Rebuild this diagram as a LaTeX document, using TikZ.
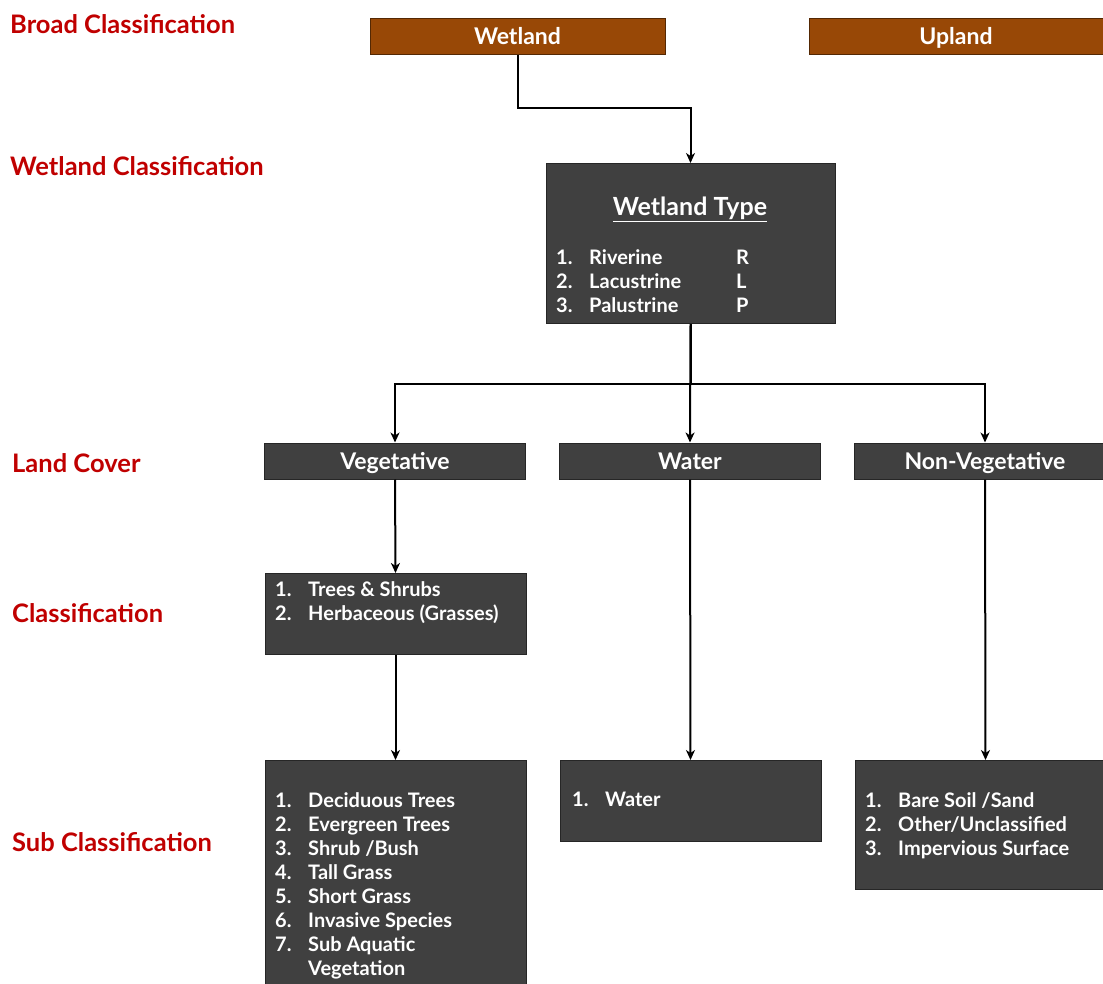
\documentclass[tikz,border=0pt]{standalone}
\usepackage{fontspec}
\setmainfont{Lato}
\usetikzlibrary{arrows.meta,calc}
\definecolor{soilbrown}{HTML}{984806}
\definecolor{boxgrey}{HTML}{404040}
\definecolor{levelred}{HTML}{C00000}
\tikzset{
   broad node/.style={rectangle,fill=soilbrown,draw=soilbrown!55!black,line width=1pt,text=white,
                      font=\bfseries\fontsize{23}{26}\selectfont,minimum width=295pt,minimum height=36pt,inner sep=0pt,
                      text height=18pt,text depth=2pt},
   cover node/.style={rectangle,fill=boxgrey,draw=black!85,line width=1pt,text=white,
                      font=\bfseries\fontsize{23}{26}\selectfont,minimum width=261pt,minimum height=36pt,inner sep=0pt,
                      text height=18pt,text depth=2pt},
   class box/.style={rectangle,fill=boxgrey,draw=black!85,line width=1pt,inner sep=0pt,anchor=north west},
   list text/.style={anchor=north west,text=white,align=left,font=\bfseries\fontsize{20}{24}\selectfont,inner sep=0pt},
   level label/.style={anchor=west,text=levelred,font=\bfseries\fontsize{25.5}{28}\selectfont,inner sep=0pt},
   flow/.style={-{Stealth[length=10pt,width=9pt,inset=3pt]},line width=2pt}
}
\newcommand{\itemno}[2]{\makebox[33pt][l]{#1.}#2}

\begin{document}
\begin{tikzpicture}[x=1pt,y=-1pt]
\useasboundingbox[fill=white] (0,0) rectangle (1103,984);
% level labels
\node[level label] (lbroad) at (10,24)  {Broad Classification};
\node[level label] (lwet)   at (10,166) {Wetland Classification};
\node[level label] (lcover) at (12,463) {Land Cover};
\node[level label] (lclass) at (12,613) {Classification};
\node[level label] (lsub)   at (12,842) {Sub Classification};
% broad classes
\node[broad node] (wetland) at (517.5,37) {Wetland};
\node[broad node,minimum width=294pt] (upland) at (956,37) {Upland};
% wetland type
\node[class box,minimum width=289pt,minimum height=160pt] (wtype) at (545.5,163) {};
\node[text=white,font=\bfseries\fontsize{25}{28}\selectfont,inner sep=0pt] (wtitle) at (690,209) {\underline{Wetland Type}};
\node[list text] (wlist) at (556,249)
  {\itemno{1}{\makebox[147pt][l]{Riverine}R}\\
   \itemno{2}{\makebox[147pt][l]{Lacustrine}L}\\
   \itemno{3}{\makebox[147pt][l]{Palustrine}P}};
% land cover
\node[cover node] (veg)    at (395,461) {Vegetative};
\node[cover node] (water)  at (690,461) {Water};
\node[cover node] (nonveg) at (985,461) {Non-Vegetative};
% classification
\node[class box,minimum width=261pt,minimum height=81pt] (vegclass) at (264.5,573) {};
\node[list text] (vclist) at (275,581)
  {\itemno{1}{Trees \& Shrubs}\\
   \itemno{2}{Herbaceous (Grasses)}};
% sub classification
\node[class box,minimum width=261pt,minimum height=260pt] (vegsub) at (264.5,760) {};
\node[list text] (vslist) at (275,792)
  {\itemno{1}{Deciduous Trees}\\
   \itemno{2}{Evergreen Trees}\\
   \itemno{3}{Shrub /Bush}\\
   \itemno{4}{Tall Grass}\\
   \itemno{5}{Short Grass}\\
   \itemno{6}{Invasive Species}\\
   \itemno{7}{Sub Aquatic}\\
   \hspace*{33pt}Vegetation};
\node[class box,minimum width=261pt,minimum height=81pt] (watersub) at (559.5,760) {};
\node[list text] (wslist) at (572,792) {\itemno{1}{Water}};
\node[class box,minimum width=261pt,minimum height=129pt] (nonvegsub) at (854.5,760) {};
\node[list text] (nslist) at (865,792)
  {\itemno{1}{Bare Soil /Sand}\\
   \itemno{2}{Other/Unclassified}\\
   \itemno{3}{Impervious Surface}};
% connectors
\draw[flow] (wetland.south) -- ++(0,53) -| (wtype.north);
\draw[flow] (wtype.south) -- ++(0,60) coordinate (split) -| (veg.north);
\draw[flow] (split) -| (nonveg.north);
\draw[flow] (wtype.south) -- (water.north);
\draw[flow] (veg.south) -- (vegclass.north);
\draw[flow] (vegclass.south) -- (vegsub.north);
\draw[flow] (water.south) -- (watersub.north);
\draw[flow] (nonveg.south) -- (nonvegsub.north);
\end{tikzpicture}
\end{document}
